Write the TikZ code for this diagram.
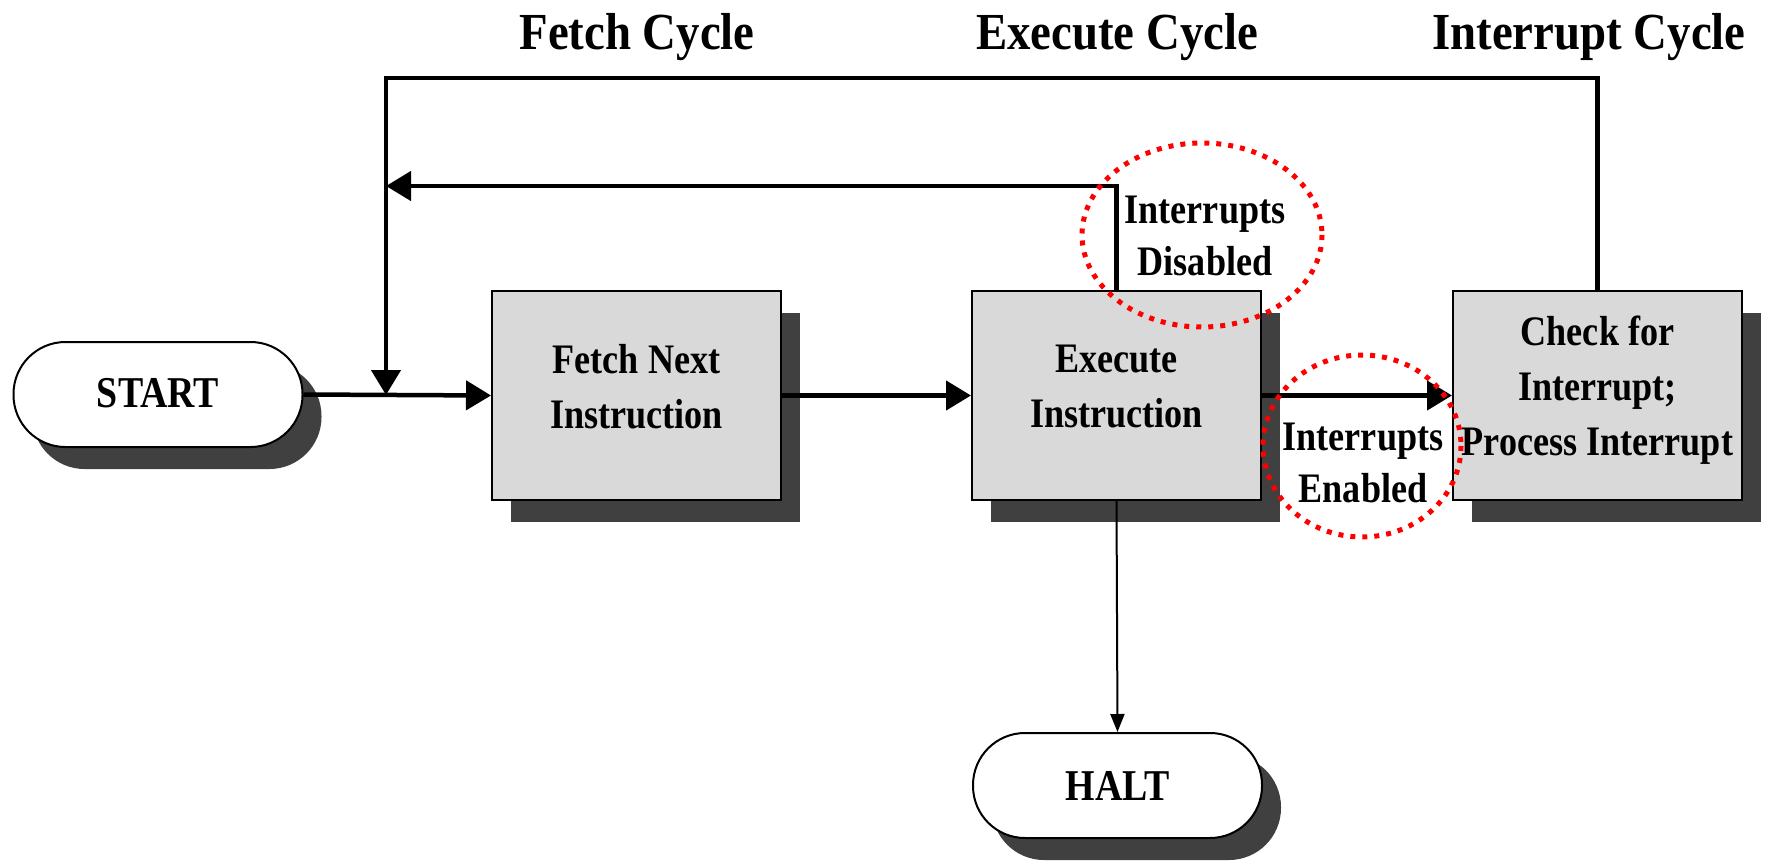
\documentclass[tikz,border=0pt]{standalone}
\usepackage{fontspec}
\setmainfont{Liberation Serif}[FakeStretch=0.86]
\newfontfamily\titlefont{Liberation Serif}[FakeStretch=0.9]
\usetikzlibrary{arrows.meta,shadows,positioning}
\definecolor{shadowgray}{HTML}{404040}
\definecolor{boxgray}{HTML}{D9D9D9}
\tikzset{
  boxshadow/.style={general shadow={shadow xshift=19pt,shadow yshift=-22pt,fill=shadowgray,opacity=1}},
  procbox/.style={draw=black,line width=2pt,fill=boxgray,minimum width=289pt,minimum height=209pt,
    inner sep=0pt,boxshadow},
  pill/.style={draw=black,line width=2pt,fill=white,minimum width=289pt,minimum height=105pt,
    rounded corners=52pt,inner sep=0pt,align=center,boxshadow,font=\fontsize{44}{55}\selectfont\bfseries},
  boxtext/.style={align=center,inner sep=0pt,font=\fontsize{42}{55}\selectfont\bfseries},
  lbl/.style={align=center,inner sep=0pt,font=\fontsize{42}{52}\selectfont\bfseries},
  ttl/.style={inner sep=0pt,anchor=base,font=\fontsize{52}{60}\selectfont\titlefont\bfseries},
  flow/.style={line width=4.5pt,-{Triangle[length=25pt,width=29pt]}},
  thinflow/.style={line width=2pt,-{Triangle[length=18pt,width=14pt]}},
  redring/.style={draw=red,line width=5pt,dash pattern=on 5pt off 7pt}
}
\begin{document}
\begin{tikzpicture}[x=1pt,y=-1pt]
\useasboundingbox[fill=white] (0,0) rectangle (1766,861);
% titles
\node[ttl] (t1) at (637,50) {Fetch Cycle};
\node[ttl] (t2) at (1117,50) {Execute Cycle};
\node[ttl] (t3) at (1589,50) {Interrupt Cycle};
% nodes
\node[pill] (start) at (158,394.5) {\raisebox{4pt}{START}};
\node[procbox] (fetch) at (636.5,395.5) {};
\node[procbox] (exec) at (1116.5,395.5) {};
\node[procbox] (check) at (1597.5,395.5) {};
\node[boxtext] (fetchT) at (636.5,387) {Fetch Next\\Instruction};
\node[boxtext] (execT) at (1116.5,387) {Execute\\Instruction};
\node[boxtext] (checkT) at (1597.5,390) {Check for\\Interrupt;\\Process Interrupt};
\node[pill] (halt) at (1117.5,785.5) {HALT};
% coordinates
\coordinate (j) at (386,395);
\coordinate (topL) at (386,78);
\coordinate (innerL) at (386,186);
% connectors
\draw[flow] (start.east) -- (fetch.west);
\draw[flow] (fetch.east) -- (exec.west);
\draw[flow] (exec.east) -- (check.west);
\draw[thinflow] (exec.south) -- (halt.north);
\draw[flow] (check.north) |- (topL) -- (j);
\draw[flow] (exec.north) |- (innerL);
% labels
\node[lbl] (dis) at (1205,236) {Interrupts\\Disabled};
\node[lbl] (en) at (1363,463) {Interrupts\\Enabled};
% red rings
\draw[redring] (1202,235) ellipse [x radius=120, y radius=92];
\draw[redring] (1362,446) ellipse [x radius=99, y radius=91];
\end{tikzpicture}
\end{document}
